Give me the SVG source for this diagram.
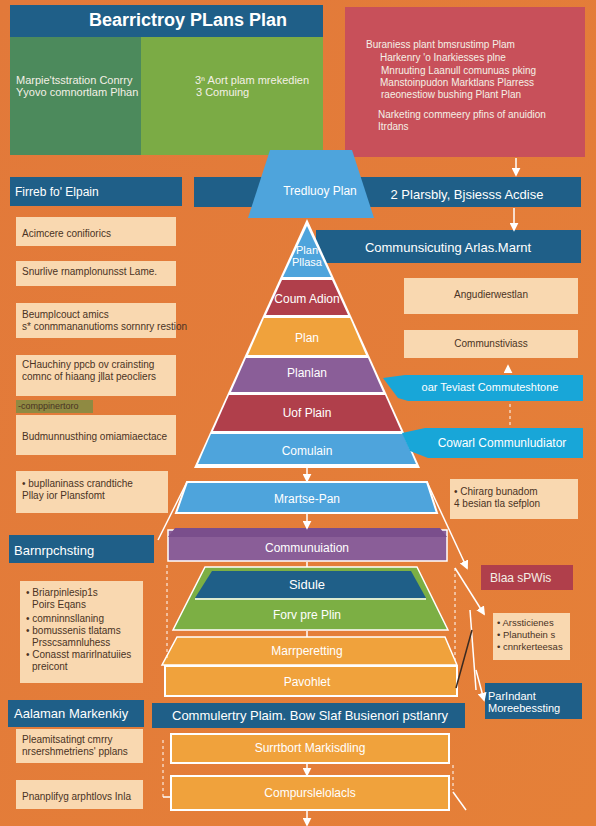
<svg xmlns="http://www.w3.org/2000/svg" width="596" height="826" viewBox="0 0 596 826">
<defs>
<style>
text{font-family:"Liberation Sans",Arial,sans-serif}
.w{fill:#ffffff}
.wl{fill:#f4f0e6}
.d{fill:#4a3324}
.s10{font-size:10px}
.s11{font-size:11px}
.s12{font-size:12px}
.s13{font-size:13px}
.c{text-anchor:middle}
.beige{fill:#f9d8b0}
.dblue{fill:#1f5f88}
.lblue{fill:#4ea4dc}
.red{fill:#b03f4b}
.purple{fill:#8a5e98}
.gold{fill:#f0a23c}
.green{fill:#7caf44}
.cyan{fill:#18a6d8}
.ln{stroke:#fff;stroke-width:1.5;fill:none}
.dash{stroke:#fff;stroke-width:1;stroke-dasharray:3 3;fill:none}
</style>
<marker id="ah" viewBox="0 0 10 10" refX="8" refY="5" markerWidth="6" markerHeight="6" orient="auto"><path d="M0,0 L10,5 L0,10 z" fill="#fff"/></marker>
<linearGradient id="bg" x1="0" y1="0" x2="1" y2="1"><stop offset="0" stop-color="#e2793a"/><stop offset="1" stop-color="#e58038"/></linearGradient>
</defs>
<rect width="596" height="826" fill="url(#bg)"/>

<g id="top-left-panel">
<rect x="10" y="37" width="131" height="118" fill="#4c8a5c"/>
<rect x="141" y="37" width="182" height="118" fill="#7bab45"/>
<rect x="10" y="5" width="313" height="32" class="dblue"/>
<text x="188" y="26" class="w c" font-size="18" font-weight="bold">Bearrictroy PLans Plan</text>
<text x="16" y="84" class="wl s11">Marpie'tsstration  Conrry</text>
<text x="16" y="96" class="wl s11">Yyovo  comnortlam Plhan</text>
<text x="195" y="84" class="wl s11">3ⁿ Aort plam mrekedien</text>
<text x="196" y="96" class="wl s11">3 Comuing</text>
</g>

<g id="top-right-panel">
<rect x="345" y="7" width="240" height="150" fill="#c8505a"/>
<text x="366" y="48" class="wl s10">Buraniess plant bmsrustimp Plam</text>
<text x="380" y="61" class="wl s10">Harkenry 'o Inarkiesses plne</text>
<text x="381" y="74" class="wl s10">Mnruuting Laanull comunuas pking</text>
<text x="380" y="86" class="wl s10">Manstoinpudon Marktlans Plarress</text>
<text x="381" y="98" class="wl s10">raeonestiow bushing Plant Plan</text>
<text x="378" y="118" class="wl s10">Narketing commeery pfins  of anuidion</text>
<text x="378" y="130" class="wl s10">Itrdans</text>
</g>

<g id="firreb">
<rect x="10" y="177" width="172" height="29" class="dblue"/>
<text x="15" y="196" class="w s12">Firreb fo' Elpain</text>
</g>

<g id="plarsbly">
<rect x="194" y="177" width="387" height="30" class="dblue"/>
<text x="467" y="199" class="w c s13">2 Plarsbly, Bjsiesss Acdise</text>
</g>

<g id="tredioy">
<polygon points="270,150 352,150 374,218 248,218" class="lblue"/>
<text x="320" y="195" class="w c s12">Tredluoy Plan</text>
</g>

<g id="communsicuting">
<rect x="316" y="230" width="265" height="33" class="dblue"/>
<text x="448" y="252" class="w c s13">Communsicuting Arlas.Marnt</text>
</g>

<g id="pyramid">
<polygon points="307,219 420,468 194,468" fill="#fff"/>
<polygon points="307,226 331,277 283,277" class="lblue"/>
<polygon points="282,280 332,280 348,315 266,315" class="red"/>
<polygon points="264,318 350,318 366,355 248,355" class="gold"/>
<polygon points="246,358 368,358 383,392 231,392" class="purple"/>
<polygon points="229,395 385,395 401,431 213,431" class="red"/>
<polygon points="211,434 403,434 416,464 198,464" class="lblue"/>
<text x="307" y="254" class="w c s11">Plan</text>
<text x="307" y="266" class="w c s11">Pllasa</text>
<text x="307" y="303" class="w c s12">Coum Adion</text>
<text x="307" y="342" class="w c s12">Plan</text>
<text x="307" y="377" class="w c s12">Planlan</text>
<text x="307" y="417" class="w c s12">Uof Plain</text>
<text x="307" y="455" class="w c s12">Comulain</text>
</g>

<g id="left-col">
<rect x="16" y="217" width="160" height="29" class="beige"/>
<text x="22" y="237" class="d s10">Acimcere conifiorics</text>
<rect x="16" y="261" width="160" height="25" class="beige"/>
<text x="22" y="275" class="d s10">Snurlive rnamplonunsst Lame.</text>
<rect x="16" y="303" width="160" height="35" class="beige"/>
<text x="22" y="318" class="d s10">Beumplcouct amics</text>
<text x="22" y="330" class="d s10">s* conmmananutioms sornnry restion</text>
<rect x="16" y="355" width="160" height="41" class="beige"/>
<text x="22" y="368" class="d s10">CHauchiny ppcb ov crainsting</text>
<text x="22" y="380" class="d s10">comnc of hiaang jllat peocliers</text>
<rect x="16" y="400" width="77" height="13" fill="#8f8a42"/>
<text x="18" y="409" class="d" font-size="9">-comppinertoro</text>
<rect x="16" y="415" width="160" height="40" class="beige"/>
<text x="22" y="440" class="d s10">Budmunnusthing omiamiaectace</text>
<rect x="16" y="471" width="152" height="42" class="beige"/>
<text x="22" y="487" class="d s10">•  bupllaninass  crandtiche</text>
<text x="22" y="499" class="d s10">Pllay  ior Plansfomt</text>
</g>

<g id="right-col">
<rect x="404" y="278" width="174" height="36" class="beige"/>
<text x="491" y="298" class="d c s10">Angudierwestlan</text>
<rect x="404" y="330" width="174" height="28" class="beige"/>
<text x="491" y="347" class="d c s10">Communstiviass</text>
</g>

<g id="teviast">
<path d="M383,378 L405,375 L583,375 L583,401 L408,401 L398,398 Z" class="cyan"/>
<text x="490" y="391" class="w c s11">oar  Teviast Commuteshtone</text>
</g>

<g id="cowarl">
<path d="M402,433 L425,428 L583,428 L583,458 L428,458 L410,451 Z" class="cyan"/>
<text x="502" y="447" class="w c s12">Cowarl Communludiator</text>
</g>

<g id="chirarg">
<rect x="450" y="479" width="128" height="40" class="beige"/>
<text x="454" y="495" class="d s10">• Chirarg bunadom</text>
<text x="454" y="507" class="d s10">4 besian tla sefplon</text>
</g>

<g id="mrartse">
<polygon points="187,482 427,482 437,513 176,513" class="lblue" stroke="#fff" stroke-width="2"/>
<text x="307" y="503" class="w c s12">Mrartse-Pan</text>
</g>

<g id="communuiation">
<rect x="168" y="530" width="279" height="31" class="purple" stroke="#fff" stroke-width="1.5"/>
<polygon points="175,528 440,528 447,537 168,537" fill="#7a4e8c"/>
<text x="307" y="552" class="w c s12">Communuiation</text>
</g>

<g id="green-block">
<polygon points="205,567 417,567 448,630 173,630" class="green" stroke="#fff" stroke-width="1.5"/>
<polygon points="212,571 411,571 426,598 195,598" class="dblue"/>
<line x1="195" y1="599" x2="426" y2="599" stroke="#fff" stroke-width="1.5"/>
<polygon points="193,601 428,601 442,627 180,627" fill="#7caf44"/>
<text x="307" y="589" class="w c s13">Sidule</text>
<text x="307" y="619" class="w c s12">Forv pre Plin</text>
</g>

<g id="marrperetting">
<polygon points="177,637 445,637 457,665 162,665" class="gold" stroke="#fff" stroke-width="1.5"/>
<text x="307" y="655" class="w c s12">Marrperetting</text>
</g>

<g id="pavohlet">
<rect x="165" y="666" width="292" height="30" class="gold" stroke="#fff" stroke-width="2"/>
<text x="307" y="686" class="w c s12">Pavohlet</text>
</g>

<g id="commulertry">
<rect x="152" y="703" width="313" height="25" class="dblue"/>
<text x="310" y="720" class="w c s13">Commulertry Plaim.  Bow Slaf Busienori pstlanry</text>
</g>

<g id="surrtbort">
<rect x="171" y="734" width="278" height="29" class="gold" stroke="#fff" stroke-width="2"/>
<text x="310" y="752" class="w c s12">Surrtbort Markisdling</text>
</g>

<g id="compurslelolacls">
<rect x="171" y="776" width="278" height="34" class="gold" stroke="#fff" stroke-width="2"/>
<text x="310" y="797" class="w c s12">Compurslelolacls</text>
</g>

<g id="barnrpchsting">
<rect x="9" y="535" width="145" height="28" class="dblue"/>
<text x="14" y="555" class="w s13">Barnrpchsting</text>
</g>

<g id="bullets-left">
<rect x="20" y="581" width="123" height="102" class="beige"/>
<text x="26" y="596" class="d s10">• Briarpinlesip1s</text>
<text x="32" y="608" class="d s10">Poirs Eqans</text>
<text x="26" y="622" class="d s10">• comninnsllaning</text>
<text x="26" y="634" class="d s10">• bomussenis tlatams</text>
<text x="32" y="646" class="d s10">Prsscsamnluhess</text>
<text x="26" y="658" class="d s10">• Conasst marirlnatuiies</text>
<text x="32" y="670" class="d s10">preicont</text>
</g>

<g id="aalaman">
<rect x="8" y="700" width="136" height="27" class="dblue"/>
<text x="14" y="718" class="w s13">Aalaman Markenkiy</text>
</g>

<g id="pleamits">
<rect x="16" y="729" width="127" height="34" class="beige"/>
<text x="22" y="743" class="d s10">Pleamitsatingt cmrry</text>
<text x="22" y="755" class="d s10">nrsershmetriens' pplans</text>
</g>

<g id="pnanplifyg">
<rect x="16" y="780" width="127" height="29" class="beige"/>
<text x="22" y="800" class="d s10">Pnanplifyg arphtlovs Inla</text>
</g>

<g id="blaa">
<rect x="481" y="565" width="92" height="25" class="red"/>
<text x="490" y="582" class="wl s12">Blaa sPWis</text>
</g>

<g id="arssticienes">
<rect x="493" y="613" width="77" height="47" class="beige"/>
<text x="497" y="626" class="d" font-size="9.5">• Arssticienes</text>
<text x="497" y="638" class="d" font-size="9.5">• Planuthein s</text>
<text x="497" y="650" class="d" font-size="9.5">• cnnrkerteesas</text>
</g>

<g id="parlndant">
<rect x="485" y="683" width="97" height="36" class="dblue"/>
<text x="488" y="700" class="w s11">ParIndant</text>
<text x="488" y="712" class="w s11">Moreebessting</text>
</g>

<g id="connectors">
<line x1="516" y1="158" x2="516" y2="175" class="ln" marker-end="url(#ah)"/>
<line x1="514" y1="208" x2="514" y2="230" class="ln" marker-end="url(#ah)"/>
<line x1="508" y1="372" x2="508" y2="366" class="ln" marker-end="url(#ah)"/>
<line x1="510" y1="404" x2="510" y2="426" class="dash"/>
<line x1="307" y1="467" x2="307" y2="481" class="ln" marker-end="url(#ah)"/>
<line x1="307" y1="514" x2="307" y2="528" class="ln" marker-end="url(#ah)"/>
<line x1="307" y1="562" x2="307" y2="567" class="ln"/>
<line x1="307" y1="631" x2="307" y2="637" class="ln"/>
<line x1="307" y1="763" x2="307" y2="775" class="ln" marker-end="url(#ah)"/>
<line x1="307" y1="811" x2="307" y2="825" class="ln" marker-end="url(#ah)"/>
<line x1="187" y1="482" x2="158" y2="540" class="ln"/>
<line x1="427" y1="482" x2="467" y2="568" class="ln" marker-end="url(#ah)"/>
<line x1="455" y1="568" x2="484" y2="614" class="ln" marker-end="url(#ah)"/>
<line x1="167" y1="565" x2="167" y2="660" class="dash"/>
<line x1="455" y1="568" x2="455" y2="660" class="dash"/>
<line x1="470" y1="610" x2="476" y2="690" class="ln"/>
<line x1="472" y1="630" x2="456" y2="688" stroke="#3a2a20" stroke-width="1.5"/>
<line x1="476" y1="670" x2="484" y2="700" class="ln" marker-end="url(#ah)"/>
<line x1="163" y1="740" x2="163" y2="797" class="dash"/>
<line x1="163" y1="797" x2="170" y2="797" class="ln"/>
<line x1="453" y1="765" x2="453" y2="790" class="dash"/>
<line x1="453" y1="792" x2="466" y2="810" class="ln"/>
</g>
</svg>
